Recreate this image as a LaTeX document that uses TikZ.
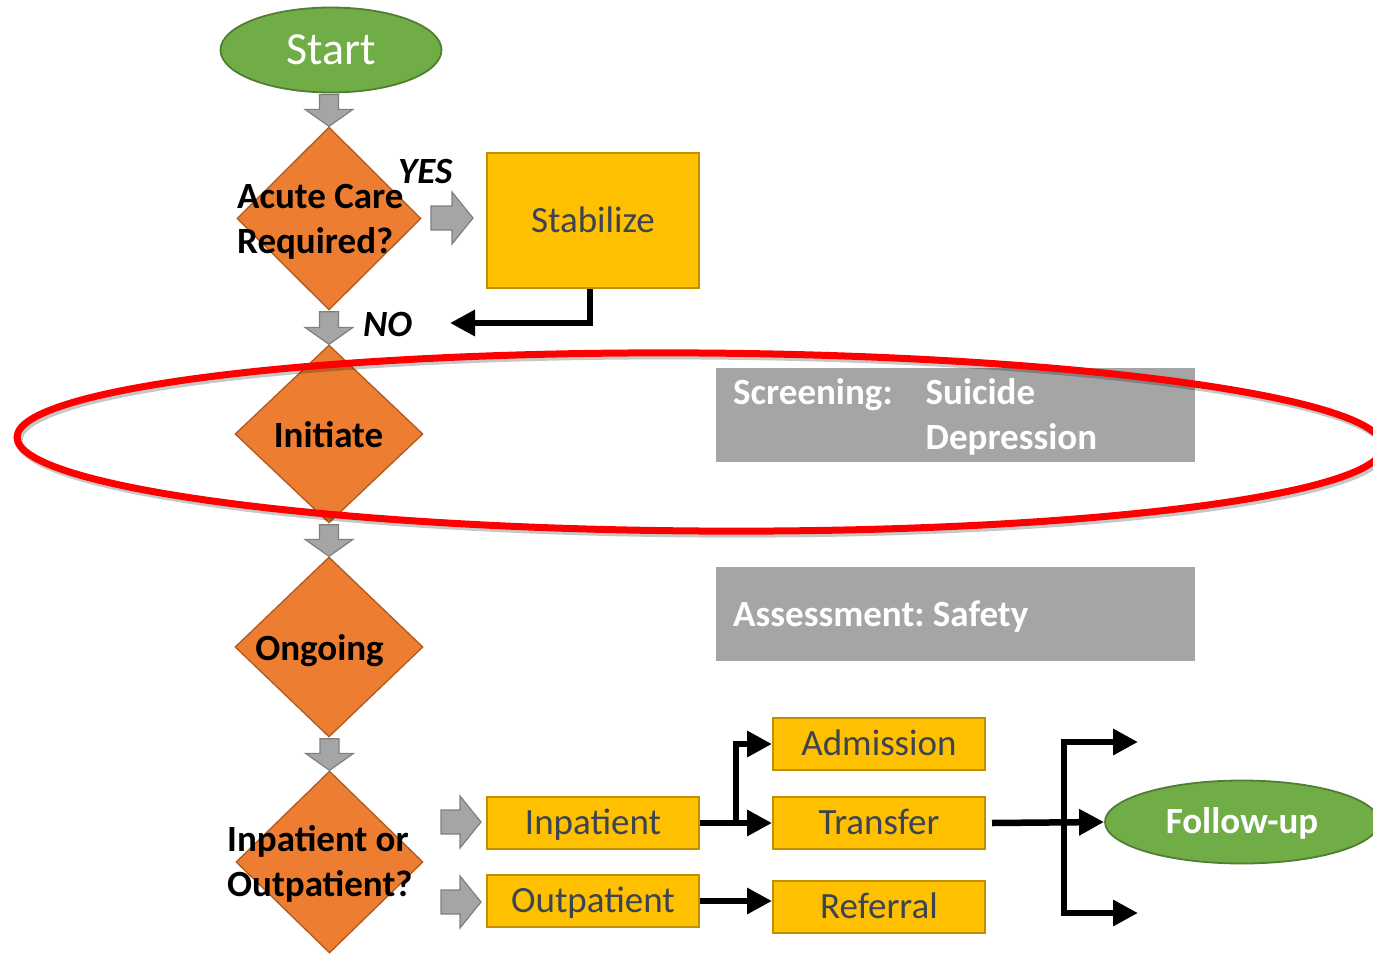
\documentclass[tikz,border=0pt]{standalone}
\usepackage{fontspec}
\setmainfont{Carlito}
\frenchspacing
\usetikzlibrary{shapes.geometric,arrows.meta,calc}

\definecolor{termgreen}{HTML}{70AD47}
\definecolor{termedge}{HTML}{507E32}
\definecolor{decorange}{HTML}{ED7D31}
\definecolor{decedge}{HTML}{AE5A21}
\definecolor{boxyellow}{HTML}{FFC000}
\definecolor{boxedge}{HTML}{BF9000}
\definecolor{panelgray}{HTML}{A5A5A5}
\definecolor{arrowedge}{HTML}{7F7F7F}
\definecolor{boxtext}{HTML}{3B4452}
\definecolor{ringred}{HTML}{FF0000}

\newcommand{\diagfont}{\fontsize{37}{45}\selectfont}

% grey block arrow pointing down from one anchor to another
\newcommand{\blockdown}[2]{%
  \draw[blockarrow] let \p1=(#1), \p2=(#2) in
    (\x2-9.5pt,\y1-1pt) -- (\x2+9.5pt,\y1-1pt) -- (\x2+9.5pt,\y2+17pt) -- (\x2+24pt,\y2+17pt)
    -- (\x2,\y2) -- (\x2-24pt,\y2+17pt) -- (\x2-9.5pt,\y2+17pt) -- cycle;}
% grey block arrow pointing right: start x, tip x, centre y
\newcommand{\blockright}[3]{%
  \draw[blockarrow] (#1,#3-12) -- (#2-21,#3-12) -- (#2-21,#3-26) -- (#2,#3)
    -- (#2-21,#3+26) -- (#2-21,#3+12) -- (#1,#3+12) -- cycle;}

\tikzset{
  terminal/.style={ellipse, fill=termgreen, draw=termedge, line width=1.8pt, inner sep=0pt, text=white},
  decision/.style={diamond, fill=decorange, draw=decedge, line width=1.3pt, inner sep=0pt},
  stepbox/.style={rectangle, fill=boxyellow, draw=boxedge, line width=2pt, inner sep=0pt,
    minimum width=212pt, minimum height=52pt, text=boxtext, font=\diagfont,
    text height=30pt, text depth=6.6pt},
  panel/.style={rectangle, fill=panelgray, inner sep=0pt, minimum width=479pt, minimum height=94pt},
  paneltext/.style={anchor=base west, inner sep=0pt, text=white, font=\diagfont\bfseries},
  qtext/.style={anchor=base west, inner sep=0pt, font=\diagfont\bfseries},
  answer/.style={anchor=base west, inner sep=0pt, font=\diagfont\bfseries\itshape},
  blockarrow/.style={fill=panelgray, draw=arrowedge, line width=1.2pt, line join=miter},
  conn/.style={line width=6.5pt, -{Triangle[length=25pt,width=25pt]}, line join=miter},
}

\begin{document}
\begin{tikzpicture}[x=1pt,y=-1pt]
\useasboundingbox (0,0) rectangle (1373,953);

% terminals
\node[terminal, minimum width=221pt, minimum height=85pt,
      font=\fontsize{46}{55}\selectfont, text height=37.7pt, text depth=8.3pt] (start) at (331,50) {Start};
\node[terminal, minimum width=274pt, minimum height=83pt,
      font=\diagfont\bfseries, text height=30pt, text depth=6.6pt] (follow) at (1242,822) {Follow-up};

% decisions
\node[decision, minimum width=184pt, minimum height=183pt] (acute) at (329,218.5) {};
\node[decision, minimum width=188pt, minimum height=178pt] (initiate) at (329,434) {};
\node[decision, minimum width=188pt, minimum height=180pt] (ongoing) at (329,647) {};
\node[decision, minimum width=187pt, minimum height=182pt] (inout) at (329.5,862) {};

\node[qtext] (acutelbl) at (237,208) {\begin{tabular}[t]{@{}l@{}}Acute Care\\Required?\end{tabular}};
\node[qtext, anchor=base] (initiatelbl) at (328.5,447) {Initiate};
\node[qtext, anchor=base] (ongoinglbl) at (319.5,660) {Ongoing};
\node[qtext] (inoutlbl) at (227,851) {\begin{tabular}[t]{@{}l@{}}Inpatient or\\Outpatient?\end{tabular}};

\node[answer] (yes) at (398,183) {YES};
\node[answer] (no) at (363,336) {NO};

% process boxes
\node[stepbox, minimum height=135pt] (stab) at (593,220.5) {Stabilize};
\node[stepbox] (inp) at (593,823) {Inpatient};
\node[stepbox] (outp) at (593,901) {Outpatient};
\node[stepbox] (adm) at (879,744) {Admission};
\node[stepbox] (trans) at (879,823) {Transfer};
\node[stepbox] (refl) at (879,906.5) {Referral};

% grey panels
\node[panel] (screen) at (955.5,415) {};
\node[panel] (assess) at (955.5,613.5) {};
\node[paneltext] (screenlbl) at (733,404)
  {\begin{tabular}[t]{@{}l@{\hspace{33pt}}l@{}}Screening: & Suicide\\ & Depression\end{tabular}};
\node[paneltext] (assesslbl) at (733,626) {Assessment: Safety};

% grey block arrows
\blockdown{start.south}{acute.north}
\blockdown{acute.south}{initiate.north}
\blockdown{initiate.south}{ongoing.north}
\blockdown{ongoing.south}{inout.north}
\blockright{431}{473}{218}
\blockright{441}{481}{822}
\blockright{441}{481}{902}

% black connectors
\coordinate (noend) at (450,323);
\draw[conn] ([xshift=-3pt]stab.south) |- (noend);
\draw[conn] (inp.east) -- (trans.west);
\draw[conn] ([xshift=36pt]inp.east) |- (adm.west);
\draw[conn] (outp.east) -- (outp.east -| refl.west);
\draw[conn] ([xshift=6pt]trans.east) -- (follow.west);
\coordinate (forktop) at (1064,742);
\coordinate (forkbot) at (1064,913);
\coordinate (outtop) at (1138,742);
\coordinate (outbot) at (1138,913);
\draw[conn] (forkbot) -- (forktop) -- (outtop);
\draw[conn] (forktop) -- (forkbot) -- (outbot);

% red highlight ring with soft shadow
\draw[black, opacity=0.22, line width=7pt, rotate around={-0.4:(702,445)}]
  (702,445) ellipse [x radius=683pt, y radius=89pt];
\draw[ringred, line width=7pt, rotate around={-0.4:(700,442)}]
  (700,442) ellipse [x radius=683pt, y radius=89pt];
\end{tikzpicture}
\end{document}
